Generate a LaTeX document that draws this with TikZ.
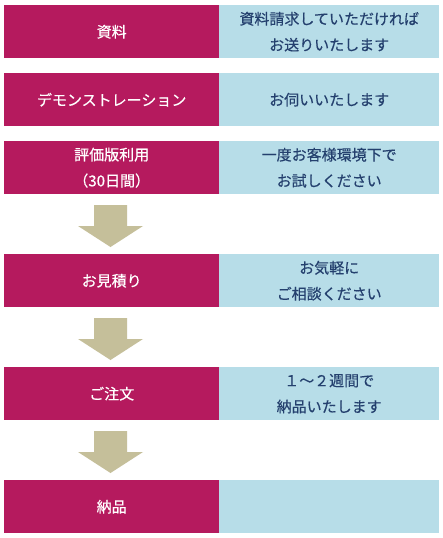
\documentclass[tikz,border=0pt]{standalone}
\usepackage{fontspec}
\setmainfont{Noto Sans CJK JP}[FakeBold=0.4]
\definecolor{mag}{HTML}{B51A5E}
\definecolor{lblue}{HTML}{B7DDE8}
\definecolor{arr}{HTML}{C5BF9A}
\definecolor{navy}{HTML}{24406E}
\begin{document}
\begin{tikzpicture}[x=1pt,y=-1pt,
  lbox/.style={fill=mag,draw=none,minimum width=215pt,minimum height=53pt,inner sep=0pt,text=white,font=\fontsize{15}{26}\selectfont,align=center,anchor=north west},
  rbox/.style={fill=lblue,draw=none,minimum width=220pt,minimum height=53pt,inner sep=0pt,text=navy,font=\fontsize{15}{26}\selectfont,align=center,anchor=north west},
  flow/.style={fill=arr,draw=none}]
\useasboundingbox (0,0) rectangle (443,538);
\fill[white] (0,0) rectangle (443,538);
\node[lbox] (l1) at (4,5) {資料};
\node[rbox] (r1) at (219,5) {資料請求していただければ\\お送りいたします};
\node[lbox] (l2) at (4,73) {デモンストレーション};
\node[rbox] (r2) at (219,73) {お伺いいたします};
\node[lbox] (l3) at (4,141) {評価版利用\\（30日間）};
\node[rbox] (r3) at (219,141) {一度お客様環境下で\\お試しください};
\node[lbox] (l4) at (4,254) {お見積り};
\node[rbox] (r4) at (219,254) {お気軽に\\ご相談ください};
\node[lbox] (l5) at (4,367) {ご注文};
\node[rbox] (r5) at (219,367) {１～２週間で\\納品いたします};
\node[lbox] (l6) at (4,480) {納品};
\node[rbox] (r6) at (219,480) {};
\foreach \t in {205,318,431}{
  \fill[flow] (94,\t) -- (127,\t) -- (127,\t+21) -- (143,\t+21) -- (110.5,\t+42) -- (78,\t+21) -- (94,\t+21) -- cycle;
}
\end{tikzpicture}
\end{document}
